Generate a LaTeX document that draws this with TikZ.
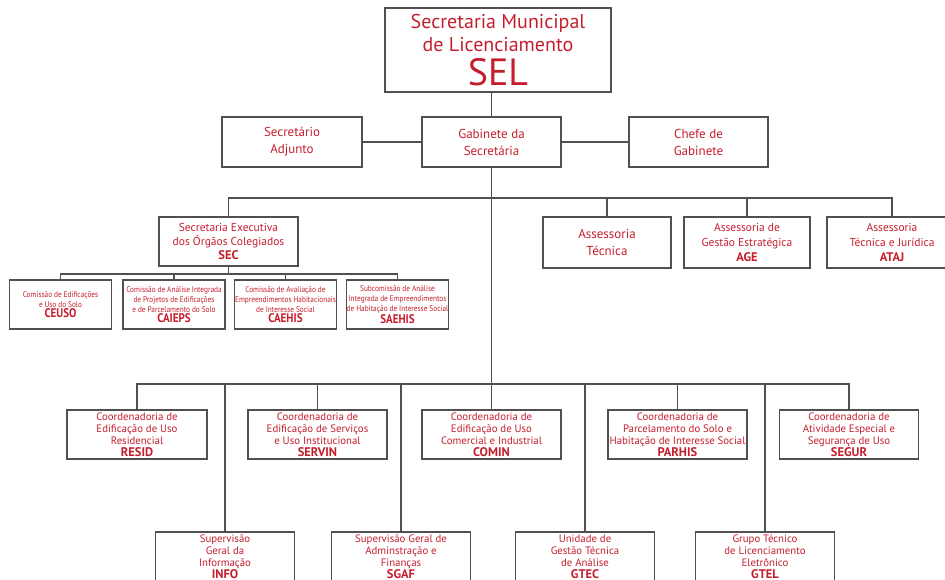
\documentclass[tikz,border=0pt]{standalone}
\usepackage{fontspec}
\setmainfont{PT Sans}
\newfontfamily\narrowsans[FakeStretch=0.88]{PT Sans}
\usepackage{xcolor}
\definecolor{selred}{RGB}{196,30,45}
\definecolor{boxgray}{RGB}{80,80,80}
\newcommand{\sigla}[1]{{\fontsize{12.5}{13}\selectfont\bfseries #1}}

\begin{document}
\begin{tikzpicture}[x=1pt,y=-1pt]
\tikzstyle{unit} =[draw=boxgray, line width=1.2pt, text=selred, align=center, inner sep=0pt, minimum width=139pt, minimum height=50pt, font=\fontsize{13}{17}\selectfont]
\tikzstyle{comis} =[unit, minimum width=102pt, minimum height=49pt, font=\narrowsans\fontsize{8.3}{10}\selectfont]
\tikzstyle{coordbox} =[unit, minimum height=49pt, font=\fontsize{10.8}{12}\selectfont]
\tikzstyle{supbox} =[unit, minimum height=64pt, text depth=15pt, font=\fontsize{10.8}{12}\selectfont]
\tikzstyle{wire} =[draw=boxgray, line width=1.2pt]

\useasboundingbox (0,0) rectangle (945,580);
\clip (0,0) rectangle (945,580);

\node[unit, minimum width=226pt, minimum height=84pt, font=\fontsize{20}{23}\selectfont](sel) at (498,50){Secretaria Municipal\\de Licenciamento\\[5pt]{\fontsize{38}{30}\selectfont SEL}};

\node[unit, minimum width=140pt](adj) at (292,142){Secretário\\Adjunto};
\node[unit](gab) at (491.5,142){Gabinete da\\Secretária};
\node[unit](chefe) at (698.5,142){Chefe de\\Gabinete};

\node[unit, minimum height=49pt, font=\fontsize{11.5}{14}\selectfont](sec) at (228.5,241.5){Secretaria Executiva\\dos Órgãos Colegiados\\\sigla{SEC}};
\node[unit, minimum width=128pt, minimum height=51pt](asstec) at (607,242.5){Assessoria\\Técnica};
\node[unit, minimum width=126pt, minimum height=51pt, font=\fontsize{11.5}{15}\selectfont](age) at (747,242.5){Assessoria de\\Gestão Estratégica\\\sigla{AGE}};
\node[unit, minimum width=130pt, minimum height=51pt, font=\fontsize{11.5}{15}\selectfont](ataj) at (892,242.5){Assessoria\\Técnica e Jurídica\\\sigla{ATAJ}};

\node[comis](ceuso) at (60.5,304.5){Comissão de Edificações\\e Uso do Solo\\\sigla{CEUSO}};
\node[comis](caieps) at (174,304.5){Comissão de Análise Integrada\\de Projetos de Edificações\\e de Parcelamento do Solo\\\sigla{CAIEPS}};
\node[comis](caehis) at (285.5,304.5){Comissão de Avaliação de\\Empreendimentos Habitacionais\\de Interesse Social\\\sigla{CAEHIS}};
\node[comis](saehis) at (397.5,304.5){Subcomissão de Análise\\Integrada de Empreendimentos\\de Habitação de Interesse Social\\\sigla{SAEHIS}};

\node[coordbox, minimum width=140pt](resid) at (137,434.5){Coordenadoria de\\Edificação de Uso\\Residencial\\\sigla{RESID}};
\node[coordbox](servin) at (317.5,434.5){Coordenadoria de\\Edificação de Serviços\\e Uso Institucional\\\sigla{SERVIN}};
\node[coordbox](comin) at (491.5,434.5){Coordenadoria de\\Edificação de Uso\\Comercial e Industrial\\\sigla{COMIN}};
\node[coordbox](parhis) at (677.5,434.5){Coordenadoria de\\Parcelamento do Solo e\\Habitação de Interesse Social\\\sigla{PARHIS}};
\node[coordbox](segur) at (849,434.5){Coordenadoria de\\Atividade Especial e\\Segurança de Uso\\\sigla{SEGUR}};

\node[supbox](info) at (225,564){Supervisão\\Geral da\\Informação\\\sigla{INFO}};
\node[supbox](sgaf) at (401,564){Supervisão Geral de\\Adminstração e\\Finanças\\\sigla{SGAF}};
\node[supbox](gtec) at (585,564){Unidade de\\Gestão Técnica\\de Análise\\\sigla{GTEC}};
\node[supbox](gtel) at (765,564){Grupo Técnico\\de Licenciamento\\Eletrônico\\\sigla{GTEL}};

% barramentos
\coordinate (busA) at (0,198);
\coordinate (busB) at (0,274);
\coordinate (busC) at (0,384);

\draw[wire] (sel.south -| gab.north) -- (gab.north);
\draw[wire] (adj) -- (gab);
\draw[wire] (gab) -- (chefe);
\draw[wire] (gab.south) -- (comin.north);

\draw[wire] (sec.north) |- (busA -| ataj.north) -- (ataj.north);
\draw[wire] (asstec.north) -- (asstec.north |- busA);
\draw[wire] (age.north) -- (age.north |- busA);

\draw[wire] (sec.south) -- (sec.south |- busB);
\draw[wire] (ceuso.north) |- (busB -| saehis.north) -- (saehis.north);
\draw[wire] (caieps.north) -- (caieps.north |- busB);
\draw[wire] (caehis.north) -- (caehis.north |- busB);

\draw[wire] (resid.north) |- (busC -| segur.north) -- (segur.north);
\draw[wire] (servin.north) -- (servin.north |- busC);
\draw[wire] (parhis.north) -- (parhis.north |- busC);
\draw[wire] (info.north) -- (info.north |- busC);
\draw[wire] (sgaf.north) -- (sgaf.north |- busC);
\draw[wire] (gtec.north) -- (gtec.north |- busC);
\draw[wire] (gtel.north) -- (gtel.north |- busC);
\end{tikzpicture}
\end{document}
